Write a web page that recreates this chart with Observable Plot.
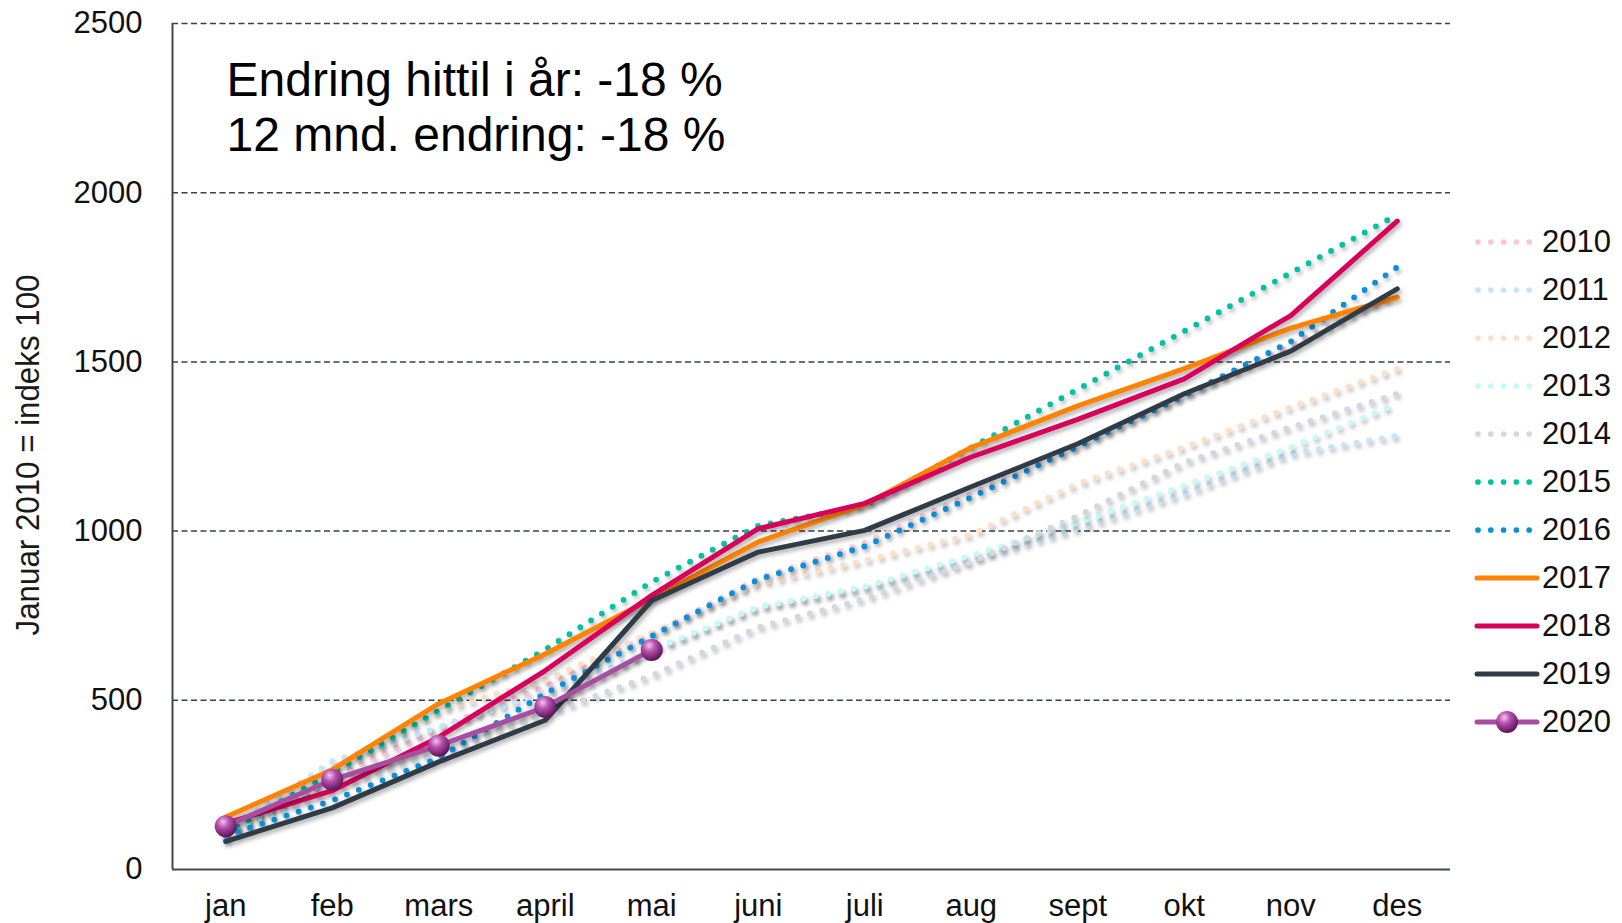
<!DOCTYPE html>
<html>
<head>
<meta charset="utf-8">
<script src="https://cdn.jsdelivr.net/npm/d3@7"></script>
<script src="https://cdn.jsdelivr.net/npm/@observablehq/plot@0.6"></script>
<style>
  html, body { margin: 0; padding: 0; background: #fff; }
  #wrap { position: relative; width: 1622px; height: 923px; font-family: "Liberation Sans", Arial, sans-serif; }
  #legend { position: absolute; left: 1474px; top: 218px; }
  .item { display: flex; align-items: center; height: 48px; }
  .item span { font-size: 31px; color: #111; margin-left: 2px; }
  #ytitle { position: absolute; left: 27px; top: 455px; white-space: nowrap; font-size: 34px; color: #1a1a1a;
            transform: translate(-50%, -50%) rotate(-90deg) scaleX(0.92); line-height: 1; }
  svg g[aria-label="line"] { filter: drop-shadow(2px 3px 2px rgba(0,0,0,0.3)); }
</style>
</head>
<body>
<div id="wrap"><div id="chart"></div><div id="ytitle"></div><div id="legend"></div></div>
<script>
const months = ["jan","feb","mars","april","mai","juni","juli","aug","sept","okt","nov","des"];
const yTicks = [0, 500, 1000, 1500, 2000, 2500];
const yTitle = "Januar 2010 = indeks 100";
const note = "Endring hittil i år: -18 %\n12 mnd. endring: -18 %";

const v2010 = [100, 270, 420, 540, 695, 860, 965, 1110, 1250, 1400, 1550, 1700];
const v2011 = [110, 320, 420, 520, 645, 775, 830, 915, 1007, 1110, 1228, 1282];
const v2012 = [100, 290, 470, 560, 700, 845, 913, 990, 1140, 1248, 1366, 1480];
const v2013 = [100, 270, 360, 480, 650, 775, 836, 928, 1026, 1135, 1248, 1376];
const v2014 = [90, 240, 345, 460, 573, 716, 800, 908, 1045, 1203, 1307, 1406];
const v2015 = [110, 285, 470, 650, 850, 1016, 1075, 1247, 1419, 1591, 1763, 1935];
const v2016 = [100, 204, 330, 520, 690, 857, 955, 1100, 1250, 1400, 1560, 1780];
const v2017 = [155, 295, 490, 637, 800, 968, 1078, 1247, 1370, 1480, 1600, 1691];
const v2018 = [136, 233, 391, 588, 810, 1007, 1082, 1219, 1330, 1450, 1637, 1916];
const v2019 = [83, 182, 318, 441, 795, 938, 1002, 1131, 1258, 1406, 1532, 1716];
const v2020 = [128, 265, 366, 480, 649];

const years = ["2010","2011","2012","2013","2014","2015","2016","2017","2018","2019","2020"];
const values = [v2010, v2011, v2012, v2013, v2014, v2015, v2016, v2017, v2018, v2019, v2020];
const colors = ["#fbc6d9","#c4e5fb","#fddfc6","#c4fbf6","#d2d8de","#00c0a6","#0a8fdb","#ff8300","#d8005b","#2f3b47","#a84da0"];
const styles = ["dot","dot","dot","dot","dot","dot","dot","solid","solid","solid","marker"];

const series = years.map((yr, k) => ({
  year: yr, color: colors[k], style: styles[k],
  rows: values[k].map((v, i) => ({i, v, year: yr}))
}));

const lineMarks = series.map(s => Plot.line(s.rows, {
  x: "i", y: "v", stroke: s.color,
  strokeWidth: s.style === "dot" ? 5.8 : 5,
  strokeLinecap: "round", strokeLinejoin: "round",
  strokeDasharray: s.style === "dot" ? "0 12.8" : null
}));
const s2020 = series[10];

const chart = Plot.plot({
  width: 1622, height: 923,
  marginLeft: 172, marginRight: 172, marginTop: 23, marginBottom: 54,
  style: { fontFamily: '"Liberation Sans", Arial, sans-serif', color: "#111", background: "#fff" },
  x: { type: "linear", domain: [-0.5, 11.5], axis: null },
  y: { domain: [0, 2500], axis: null },
  marks: [
    Plot.ruleY(yTicks.filter(d => d > 0), { stroke: "#3b4048", strokeWidth: 1.5, strokeDasharray: "6,3.5" }),
    Plot.ruleY([0], { stroke: "#3e4852", strokeWidth: 2 }),
    Plot.ruleX([-0.5], { stroke: "#3e4852", strokeWidth: 2 }),
    Plot.axisY(yTicks, { tickSize: 0, tickPadding: 30, fontSize: 31, tickFormat: d => String(d), label: null }),
    Plot.axisX(d3.range(months.length), { tickSize: 0, tickPadding: 24, fontSize: 31, tickFormat: i => months[i], label: null }),
    Plot.text([note], { frameAnchor: "top-left", textAnchor: "start", lineAnchor: "top", dx: 54, dy: 33, fontSize: 48, lineHeight: 1.15, fill: "#000" }),
    ...lineMarks,
    Plot.dot(s2020.rows, { x: "i", y: "v", r: 11, fill: "url(#sphere)", stroke: "none" })
  ]
});

const ns = "http://www.w3.org/2000/svg";
function addDefs(svg) {
  const defs = document.createElementNS(ns, "defs");
  defs.innerHTML = '<radialGradient id="sphere" cx="38%" cy="30%" r="70%">' +
    '<stop offset="0%" stop-color="#f4c2ee"/><stop offset="40%" stop-color="#b650ad"/>' +
    '<stop offset="100%" stop-color="#5e1459"/></radialGradient>';
  svg.insertBefore(defs, svg.firstChild);
}
addDefs(chart);
document.getElementById("chart").appendChild(chart);
document.getElementById("ytitle").textContent = yTitle;

// legend
const legend = document.getElementById("legend");
series.forEach(s => {
  const item = document.createElement("div");
  item.className = "item";
  const sw = document.createElementNS(ns, "svg");
  sw.setAttribute("width", 66); sw.setAttribute("height", 30);
  if (s.style === "dot") {
    sw.innerHTML = `<line x1="4" x2="58" y1="15" y2="15" stroke="${s.color}" stroke-width="5.7" stroke-linecap="round" stroke-dasharray="0 12.8"/>`;
  } else if (s.style === "solid") {
    sw.innerHTML = `<line x1="3" x2="63" y1="15" y2="15" stroke="${s.color}" stroke-width="5" stroke-linecap="round"/>`;
  } else {
    sw.innerHTML = `<line x1="3" x2="63" y1="15" y2="15" stroke="${s.color}" stroke-width="5" stroke-linecap="round"/><circle cx="33" cy="15" r="11" fill="url(#sphere)"/>`;
  }
  item.appendChild(sw);
  const t = document.createElement("span");
  t.textContent = s.year;
  item.appendChild(t);
  legend.appendChild(item);
});
</script>
</body>
</html>
